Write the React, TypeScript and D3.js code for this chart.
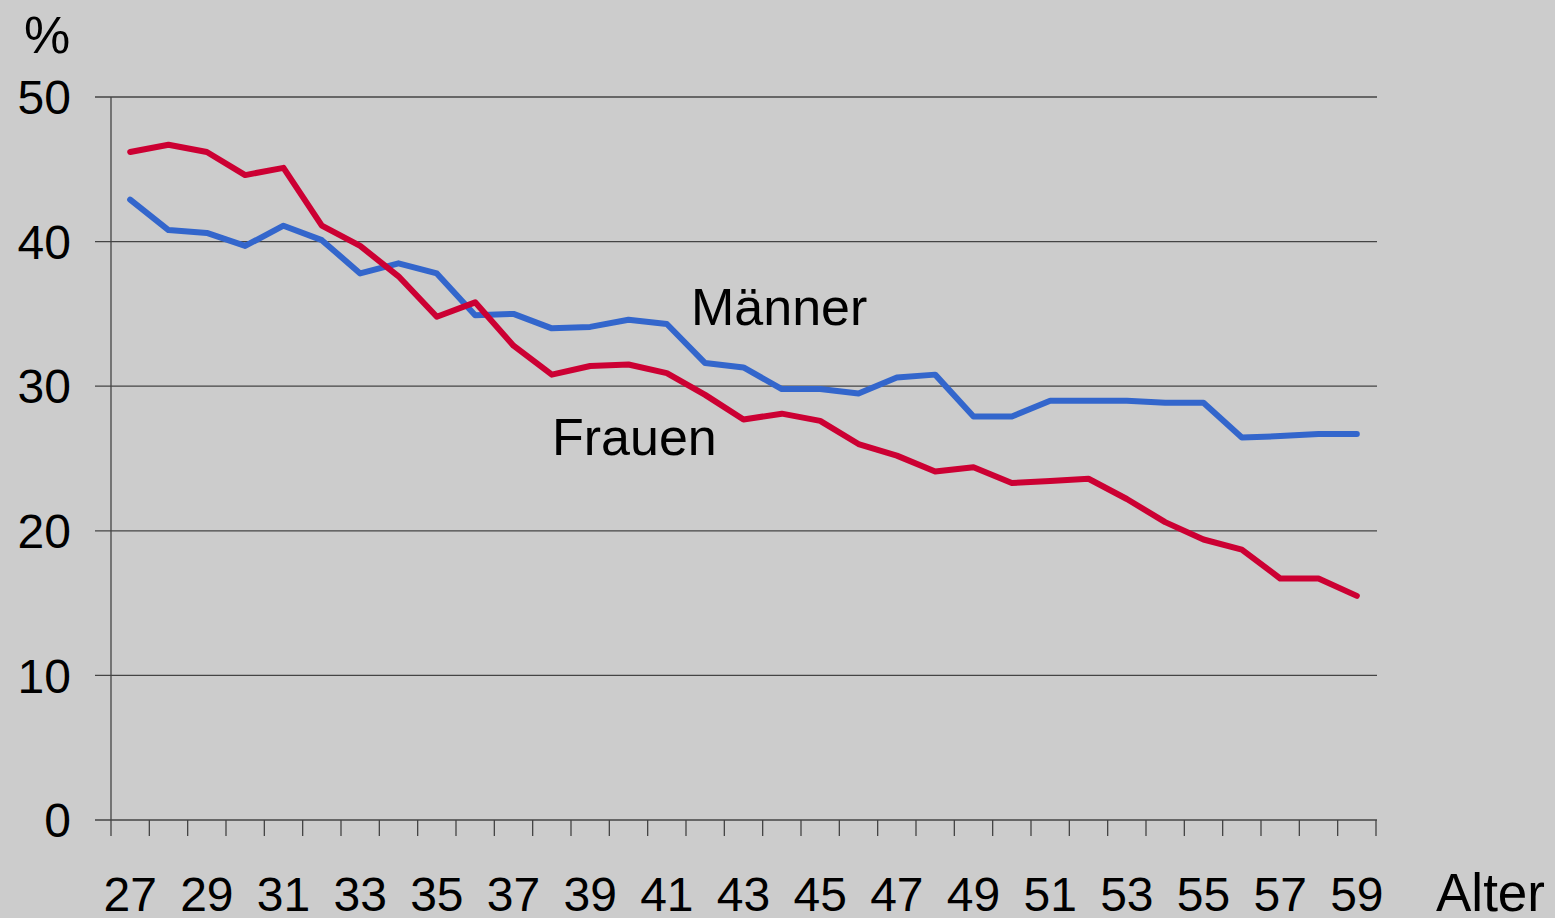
import React from "react";
import * as d3 from "d3";

const ages: number[] = [27, 28, 29, 30, 31, 32, 33, 34, 35, 36, 37, 38, 39, 40, 41, 42, 43, 44, 45, 46, 47, 48, 49, 50, 51, 52, 53, 54, 55, 56, 57, 58, 59];
const maenner: number[] = [42.9, 40.8, 40.6, 39.7, 41.1, 40.1, 37.8, 38.5, 37.8, 34.9, 35.0, 34.0, 34.1, 34.6, 34.3, 31.6, 31.3, 29.8, 29.8, 29.5, 30.6, 30.8, 27.9, 27.9, 29.0, 29.0, 29.0, 28.85, 28.85, 26.45, 26.55, 26.7, 26.7];
const frauen: number[] = [46.2, 46.7, 46.2, 44.6, 45.1, 41.1, 39.7, 37.6, 34.8, 35.8, 32.8, 30.8, 31.4, 31.5, 30.9, 29.4, 27.7, 28.1, 27.6, 26.0, 25.2, 24.1, 24.4, 23.3, 23.45, 23.6, 22.2, 20.6, 19.4, 18.7, 16.7, 16.7, 15.5];
const yTicks: number[] = [0, 10, 20, 30, 40, 50];
const xLabelAges: number[] = [27, 29, 31, 33, 35, 37, 39, 41, 43, 45, 47, 49, 51, 53, 55, 57, 59];

const W = 1555;
const H = 918;
const FONT = "'Liberation Sans', Arial, Helvetica, sans-serif";

export default function App() {
  const x = d3.scaleBand<number>().domain(ages).range([111, 1376]).padding(0);
  const y = d3.scaleLinear().domain([0, 50]).range([820, 97]);
  const cx = (a: number) => (x(a) as number) + x.bandwidth() / 2;

  const line = d3
    .line<number>()
    .x((_, i) => cx(ages[i]))
    .y((d) => y(d));

  const boundaries = ages.map((a) => x(a) as number).concat([111 + x.bandwidth() * ages.length]);

  return (
    <svg
      width={W}
      height={H}
      style={{ position: "absolute", left: 0, top: 0, display: "block" }}
      fontFamily={FONT}
    >
      <rect x={0} y={0} width={W} height={H} fill="#cccccc" />
      {yTicks.map((t) => (
        <g key={t}>
          <line x1={95} x2={1377} y1={y(t)} y2={y(t)} stroke="#444" strokeWidth={1.3} />
          <text x={71} y={y(t)} dy="0.36em" textAnchor="end" fontSize={48} fill="#000">
            {t}
          </text>
        </g>
      ))}
      <line x1={111} x2={111} y1={97} y2={820} stroke="#444" strokeWidth={1.3} />
      {boundaries.map((b, i) => (
        <line key={i} x1={b} x2={b} y1={820} y2={836} stroke="#444" strokeWidth={1.3} />
      ))}
      {xLabelAges.map((a) => (
        <text key={a} x={cx(a)} y={911} textAnchor="middle" fontSize={48} fill="#000">
          {a}
        </text>
      ))}
      <text x={1436} y={911} fontSize={53} fill="#000">
        Alter
      </text>
      <text x={47} y={53} textAnchor="middle" fontSize={52} fill="#000">
        %
      </text>
      <path d={line(maenner) || ""} fill="none" stroke="#3366cc" strokeWidth={6} strokeLinejoin="round" strokeLinecap="round" />
      <path d={line(frauen) || ""} fill="none" stroke="#cc0033" strokeWidth={6} strokeLinejoin="round" strokeLinecap="round" />
      <text x={691} y={325} fontSize={52} fill="#000">
        Männer
      </text>
      <text x={552} y={455} fontSize={52} fill="#000">
        Frauen
      </text>
    </svg>
  );
}
